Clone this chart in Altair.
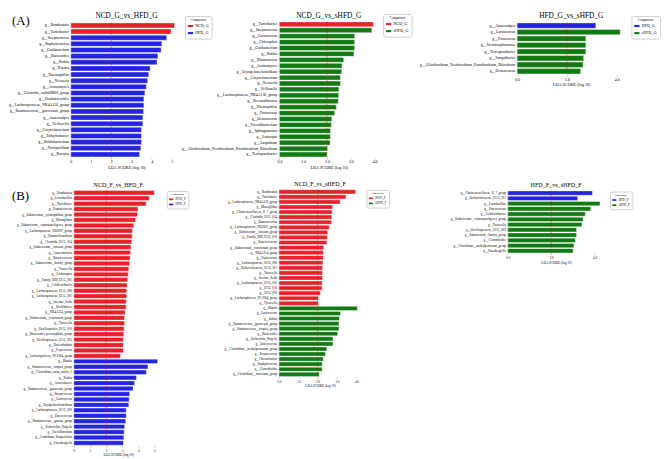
import altair as alt
import pandas as pd

RED = "#e8202a"
BLUE = "#2323e0"
GREEN = "#127a12"
THRESH = 2.0
FONT = "Liberation Serif"

# ---------------- (A) NCD_G vs HFD_G ----------------
a1_taxa = ["g__Romboutsia", "g__Turicibacter", "g__Streptococcus", "g__Staphylococcus",
           "g__Cutibacterium", "g__Bacteroides", "g__Rothia", "g__Blautia", "g__Haemophilus",
           "g__Neisseria", "g__Actinomyces", "g__Clostridia_vadinBB60_group", "g__Parabacteroides",
           "g__Lachnospiraceae_NK4A136_group", "g__Ruminococcus__gauvreauii_group", "g__Anaerostipes",
           "g__Veillonella", "g__Corynebacterium", "g__Enhydrobacter", "g__Bifidobacterium",
           "g__Novispirillum", "g__Kocuria"]
a1_lda = [5.13, 4.95, 4.74, 4.50, 4.46, 4.30, 4.26, 3.92, 3.85, 3.80, 3.73, 3.66, 3.61, 3.61,
          3.59, 3.56, 3.56, 3.49, 3.49, 3.49, 3.46, 3.40]
a1_group = ["NCD_G"] * 2 + ["HFD_G"] * 20

# ---------------- (A) NCD_G vs sHFD_G ----------------
a2_taxa = ["g__Turicibacter", "g__Streptococcus", "g__Lactococcus", "g__Chloroplast",
           "g__Cutibacterium", "g__Rothia", "g__Blastococcus", "g__Actinomyces",
           "g__Erysipelatoclostridium", "g__Corynebacterium", "g__Neisseria", "g__Veillonella",
           "g__Lachnospiraceae_NK4A136_group", "g__Brevundimonas", "g__Haemophilus", "g__Paracoccus",
           "g__Deinococcus", "g__Faecalibacterium", "g__Sphingomonas", "g__Lautropia", "g__Atopobium",
           "g__Allorhizobium_Neorhizobium_Pararhizobium_Rhizobium", "g__Terrisporobacter"]
a2_lda = [3.95, 3.88, 3.16, 3.16, 3.16, 3.13, 2.70, 2.63, 2.62, 2.56, 2.56, 2.50, 2.49, 2.47,
          2.39, 2.32, 2.20, 2.18, 2.15, 2.14, 2.13, 2.02, 2.00]
a2_group = ["NCD_G"] * 1 + ["sHFD_G"] * 22

# ---------------- (A) HFD_G vs sHFD_G ----------------
a3_taxa = ["g__Anaerostipes", "g__Lactococcus", "g__Paracoccus", "g__Stenotrophomonas",
           "g__Terrisporobacter", "g__Sanguibacter",
           "g__Allorhizobium_Neorhizobium_Pararhizobium_Rhizobium", "g__Deinococcus"]
a3_lda = [3.16, 4.14, 2.76, 2.76, 2.76, 2.67, 2.65, 2.55]
a3_group = ["HFD_G"] * 1 + ["sHFD_G"] * 7

# ---------------- (B) NCD_F vs HFD_F ----------------
b1_taxa = ["g__Romboutsia", "g__Lactobacillus", "g__Turicibacter", "g__Ruminococcus",
           "g__Eubacterium__xylanophilum_group", "g__Monoglobus",
           "g__Eubacterium__coprostanoligenes_group", "g__Lachnospiraceae_ND3007_group",
           "g__Ruminiclostridium", "g__Clostridia_UCG_014", "g__Eubacterium__siraeum_group",
           "g__Anaerotruncus", "g__Butyricicoccus", "g__Eubacterium__brachy_group", "g__Tuzzerella",
           "g__Lachnospira", "g__Family_XIII_UCG_001", "g__Colidextribacter",
           "g__Lachnospiraceae_UCG_006", "g__Lachnospiraceae_UCG_001", "g__Incertae_Sedis",
           "g__Oscillibacter", "g__NK4A214_group", "g__Eubacterium__ventriosum_group", "g__Tyzzerella",
           "g__Oscillospirales_UCG_010", "g__Bacteroides_pectinophilus_group",
           "g__Oscillospiraceae_UCG_005", "g__Enterorhabdus", "g__Peptococcus",
           "g__Lachnospiraceae_NC2004_group",
           "g__Blautia", "g__Ruminococcus__torques_group", "g__Clostridium_sensu_stricto_1",
           "g__Rothia", "g__Acinetobacter", "g__Ruminococcus__gauvreauii_group", "g__Streptococcus",
           "g__Lactococcus", "g__Erysipelatoclostridium", "g__Lachnospiraceae_UCG_010",
           "g__Enterococcus", "g__Ruminococcus__gnavus_group", "g__Escherichia_Shigella",
           "g__Faecalibaculum", "g__Candidatus_Stoquefichus", "g__Eisenbergiella"]
b1_lda = [5.00, 4.68, 4.48, 3.98, 3.95, 3.83, 3.72, 3.64, 3.62, 3.59, 3.54, 3.52, 3.49, 3.46,
          3.41, 3.38, 3.33, 3.30, 3.28, 3.28, 3.25, 3.25, 3.18, 3.15, 3.15, 3.12, 3.10, 3.07,
          3.07, 3.07, 2.89,
          5.20, 4.60, 4.50, 3.88, 3.77, 3.67, 3.46, 3.43, 3.41, 3.25, 3.25, 3.22, 3.15, 3.12,
          3.10, 3.07]
b1_group = ["NCD_F"] * 31 + ["HFD_F"] * 16

# ---------------- (B) NCD_F vs sHFD_F ----------------
b2_taxa = ["g__Romboutsia", "g__Turicibacter", "g__Lachnospiraceae_NK4A136_group", "g__Monoglobus",
           "g__Christensenellaceae_R_7_group", "g__Clostridia_UCG_014", "g__Ruminococcus",
           "g__Lachnospiraceae_ND3007_group", "g__Eubacterium__siraeum_group",
           "g__Family_XIII_UCG_001", "g__Butyricicoccus", "g__Eubacterium__ventriosum_group",
           "g__NK4A214_group", "g__Peptococcus", "g__Lachnospiraceae_UCG_006",
           "g__Defluviitaleaceae_UCG_011", "g__Tuzzerella", "g__Incertae_Sedis",
           "g__Lachnospiraceae_UCG_001", "g__UCG_010", "g__UCG_005",
           "g__Lachnospiraceae_NC2004_group", "g__Tyzzerella",
           "g__Blautia", "g__Lactococcus", "g__Rothia", "g__Ruminococcus__gauvreauii_group",
           "g__Ruminococcus__torques_group", "g__Bacteroides", "g__Escherichia_Shigella",
           "g__Enterococcus", "g__Clostridium__methylpentosum_group", "g__Streptococcus",
           "g__Flavonifractor", "g__Staphylococcus", "g__Clostridioides",
           "g__Clostridium__innocuum_group"]
b2_lda = [3.96, 3.46, 3.16, 2.77, 2.75, 2.73, 2.71, 2.60, 2.51, 2.49, 2.47, 2.31, 2.29, 2.29,
          2.27, 2.25, 2.25, 2.25, 2.23, 2.23, 2.14, 2.03, 2.03,
          4.05, 3.18, 3.12, 3.10, 3.10, 3.03, 2.79, 2.79, 2.47, 2.40, 2.29, 2.23, 2.23, 2.08]
b2_group = ["NCD_F"] * 23 + ["sHFD_F"] * 14

# ---------------- (B) HFD_F vs sHFD_F ----------------
b3_taxa = ["g__Christensenellaceae_R_7_group", "g__Defluviitaleaceae_UCG_011", "g__Lactobacillus",
           "g__Enterococcus", "g__Colidextribacter", "g__Eubacterium__coprostanoligenes_group",
           "g__Tuzzerella", "g__Oscillospiraceae_UCG_003", "g__Eubacterium__brachy_group",
           "g__Clostridioides", "g__Clostridium__methylpentosum_group", "g__Eisenbergiella"]
b3_lda = [3.90, 3.22, 4.25, 3.82, 3.57, 3.47, 3.42, 3.17, 3.17, 3.11, 3.05, 3.01]
b3_group = ["HFD_F"] * 2 + ["sHFD_F"] * 10

SYMBOL = "M-1,-0.4H1V0.4H-1Z"
NOVIEW = alt.ViewBackground(stroke="transparent", strokeWidth=0, fill="transparent")


def panel(taxa, lda, groups, classes, colors, title, xmax, xr, yr, w, h, ticks, fmt,
          big, legend_xy, yoff=0.0, tag=None, toff=1.5):
    fs_lab = 3.9 if big else 3.2
    fs_tick = 4.0 if big else 3.2
    fs_title = 7.5 if big else 6.2
    df = pd.DataFrame({"taxon": taxa, "lda": lda, "group": groups})
    bars = alt.Chart(df).mark_bar(stroke="white", strokeWidth=0.5, strokeOpacity=0.8).encode(
        x=alt.X("lda:Q",
                scale=alt.Scale(domain=[0, xmax], range=xr, nice=False, zero=True),
                axis=alt.Axis(title="LDA SCORE (log 10)", values=ticks, format=fmt, grid=False,
                              domain=False, tickSize=1.5, tickWidth=0.5, labelFontSize=fs_tick,
                              titleFontSize=fs_tick + 0.3, titleFontWeight="normal",
                              titlePadding=1.5, labelPadding=1, labelFlush=False,
                              labelOverlap=False, labelFont=FONT, titleFont=FONT,
                              labelColor="black", titleColor="black")),
        y=alt.Y("taxon:N", sort=taxa,
                scale=alt.Scale(range=yr, paddingInner=0.18, paddingOuter=0.08),
                axis=alt.Axis(title=None, labelFontSize=fs_lab, tickSize=1.5, tickWidth=0.5,
                              domain=False, offset=yoff, labelPadding=1, labelFont=FONT,
                              labelOverlap=False, labelColor="black")),
        color=alt.Color("group:N", scale=alt.Scale(domain=classes, range=colors),
                        legend=alt.Legend(title="Comparison", orient="none",
                                          legendX=legend_xy[0], legendY=legend_xy[1],
                                          titleFontSize=3.2 if big else 2.6,
                                          titleFontWeight="normal", titleFont=FONT,
                                          titleAnchor="middle", titlePadding=1.5,
                                          labelFontSize=4.2 if big else 3.3, labelFont=FONT,
                                          symbolType=SYMBOL, symbolSize=28 if big else 18,
                                          symbolStrokeWidth=0, symbolOpacity=1,
                                          strokeColor="#cfcfcf", fillColor="white",
                                          padding=2.5 if big else 2, cornerRadius=1.5,
                                          rowPadding=1.2, labelOffset=2)),
    )
    rule = alt.Chart(pd.DataFrame({"t": [THRESH]})).mark_rule(
        color="red", strokeDash=[2, 1.5], strokeWidth=0.6, opacity=0.85).encode(
        x="t:Q", y=alt.value(yr[0]), y2=alt.value(yr[1]))
    layers = [bars, rule]
    if tag is not None:
        layers.append(alt.Chart(pd.DataFrame({"label": [tag[0]]})).mark_text(
            align="left", baseline="middle", fontSize=13, font=FONT, color="black").encode(
            text="label:N", x=alt.value(tag[1]), y=alt.value(tag[2])))
    dx = (xr[0] + xr[1]) / 2.0 - w / 2.0
    return alt.layer(*layers).properties(
        width=w, height=h, view=NOVIEW,
        title=alt.TitleParams(title, fontSize=fs_title, font=FONT, fontWeight="normal",
                              anchor="middle", frame="group", dx=dx, offset=toff,
                              color="black"))


W1, W2, W3 = 201.9, 222.9, 125.0
HA = 147.0
TOFF_A = -7.0
tick_int = [0, 1, 2, 3, 4, 5]
tick_half = [0.0, 0.5, 1.0, 1.5, 2.0, 2.5, 3.0, 3.5, 4.0]

A1 = panel(a1_taxa, a1_lda, a1_group, ["NCD_G", "HFD_G"], [RED, BLUE], "NCD_G_vs_HFD_G",
           5.5, [0, 113.3], [9.5, HA], W1, HA, tick_int, "d", True, (116.3, 3),
           tag=("(A)", -60, 8), toff=TOFF_A)
A2 = panel(a2_taxa, a2_lda, a2_group, ["NCD_G", "sHFD_G"], [RED, GREEN], "NCD_G_vs_sHFD_G",
           4.15, [0.4, 101.0], [8.5, HA], W2, HA, tick_half, ".1f", True, (106.1, 1),
           toff=TOFF_A)
A3 = panel(a3_taxa, a3_lda, a3_group, ["HFD_G", "sHFD_G"], [BLUE, GREEN], "HFD_G_vs_sHFD_G",
           4.35, [9.5, 119.8], [9.5, 62.5], W3, 63, tick_half, ".1f", True, (125.9, 3),
           yoff=-9.5, toff=TOFF_A)
B1 = panel(b1_taxa, b1_lda, b1_group, ["NCD_F", "HFD_F"], [RED, BLUE], "NCD_F_vs_HFD_F",
           5.5, [3.1, 93.3], [0.8, 261], W1, 261, tick_int, "d", False, (97.7, 1.6), yoff=-3.1,
           tag=("(B)", -60, 7))
B2 = panel(b2_taxa, b2_lda, b2_group, ["NCD_F", "sHFD_F"], [RED, GREEN], "NCD_F_vs_sHFD_F",
           4.25, [0, 83.7], [0, 190.9], W2, 191, tick_half, ".1f", False, (89.1, 0.6))
B3 = panel(b3_taxa, b3_lda, b3_group, ["HFD_F", "sHFD_F"], [BLUE, GREEN], "HFD_F_vs_sHFD_F",
           4.45, [0, 98.3], [1.2, 65.2], W3, 65, tick_half, ".1f", False, (103.9, 2.3))

chart = alt.concat(A1, A2, A3, B1, B2, B3, columns=3,
                   spacing={"row": 32.5, "column": 10}, bounds="flush", align="each",
                   padding={"left": 0, "top": 0, "right": 0, "bottom": 0}).resolve_scale(
    color="independent", x="independent", y="independent").resolve_legend(
    color="independent").configure_view(stroke="transparent", strokeWidth=0).configure(
    font=FONT, background="white")

chart.save("out.html", embed_options={"renderer": "svg", "actions": False})
